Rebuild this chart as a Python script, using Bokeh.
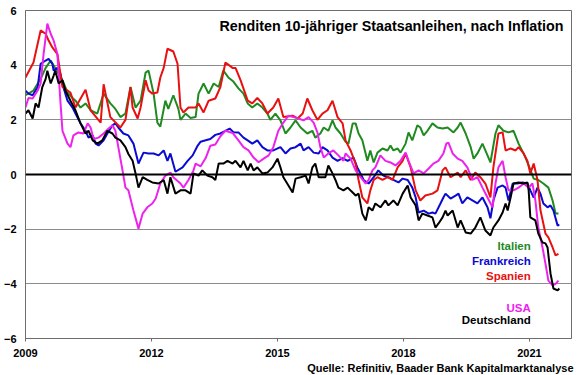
from bokeh.plotting import figure
from bokeh.models import FixedTicker, Span, Label, Range1d, Title
from bokeh.embed import file_html
from bokeh.resources import INLINE

# ---- data ----
title_text = "Renditen 10-jähriger Staatsanleihen, nach Inflation"
source_text = "Quelle: Refinitiv, Baader Bank Kapitalmarktanalyse"
x_ticks = [2009, 2012, 2015, 2018, 2021]
y_ticks = [-6, -4, -2, 0, 2, 4, 6]

it_years = [2009.00, 2009.19, 2009.36, 2009.48, 2009.60, 2009.88, 2010.00, 2010.12, 2010.19, 2010.31,
            2010.43, 2010.55, 2010.71, 2010.86, 2011.02, 2011.14, 2011.26, 2011.38, 2011.50, 2011.62,
            2011.74, 2011.86, 2011.93, 2012.05, 2012.14, 2012.21, 2012.33, 2012.40, 2012.52, 2012.64,
            2012.69, 2012.81, 2012.93, 2013.05, 2013.12, 2013.24, 2013.36, 2013.48, 2013.60, 2013.71,
            2013.83, 2013.95, 2014.07, 2014.19, 2014.29, 2014.40, 2014.52, 2014.64, 2014.76, 2014.83,
            2014.95, 2015.07, 2015.19, 2015.31, 2015.43, 2015.55, 2015.71, 2015.83, 2015.90, 2016.02,
            2016.10, 2016.21, 2016.31, 2016.38, 2016.50, 2016.62, 2016.69, 2016.79, 2016.86, 2016.93,
            2017.02, 2017.14, 2017.21, 2017.29, 2017.38, 2017.50, 2017.62, 2017.69, 2017.76, 2017.86,
            2017.93, 2018.05, 2018.12, 2018.21, 2018.33, 2018.40, 2018.48, 2018.57, 2018.69, 2018.81,
            2018.93, 2019.05, 2019.19, 2019.29, 2019.36, 2019.48, 2019.60, 2019.67, 2019.76, 2019.88,
            2020.00, 2020.07, 2020.19, 2020.26, 2020.38, 2020.50, 2020.62, 2020.74, 2020.86, 2020.98,
            2021.10, 2021.21, 2021.33, 2021.45, 2021.55, 2021.62, 2021.69]
it_vals = [2.90, 3.07, 3.50, 3.90, 4.17, 3.45, 3.00, 2.80, 2.70, 2.45,
           2.60, 2.35, 2.23, 2.96, 2.60, 2.40, 2.10, 2.23, 3.20, 2.45,
           2.70, 3.73, 3.80, 2.96, 1.90, 1.75, 2.70, 2.40, 2.90, 2.40,
           2.00, 2.23, 2.07, 2.10, 2.96, 3.33, 2.96, 3.33, 3.20, 3.80,
           3.55, 3.40, 3.15, 2.96, 2.60, 2.45, 2.60, 2.45, 2.23, 2.00,
           2.23, 1.98, 1.50, 1.72, 1.98, 1.72, 1.50, 1.60, 1.35, 1.50,
           1.72, 1.60, 1.98, 1.72, 1.50, 1.20, 1.13, 1.87, 1.87, 1.50,
           1.25, 0.50, 0.88, 0.44, 0.80, 0.95, 0.88, 1.06, 0.88, 0.95,
           0.80, 1.13, 1.54, 1.25, 1.80, 1.72, 1.43, 1.60, 1.87, 1.72,
           1.68, 1.72, 1.54, 1.72, 1.90, 1.50, 1.00, 0.58, 0.77, 1.13,
           0.70, 0.44, 1.50, 1.80, 1.60, 1.54, 1.60, 1.13, 0.77, 0.33,
           -0.15, -0.20, -0.33, -0.48, -0.95, -1.43, -1.43]

fr_years = [2009.00, 2009.07, 2009.17, 2009.29, 2009.36, 2009.48, 2009.55, 2009.64, 2009.67, 2009.76,
            2009.83, 2009.90, 2010.00, 2010.12, 2010.19, 2010.31, 2010.43, 2010.50, 2010.60, 2010.67,
            2010.74, 2010.86, 2010.95, 2011.07, 2011.14, 2011.21, 2011.33, 2011.45, 2011.57, 2011.69,
            2011.81, 2011.93, 2012.05, 2012.17, 2012.29, 2012.38, 2012.45, 2012.57, 2012.74, 2012.86,
            2012.98, 2013.10, 2013.17, 2013.29, 2013.40, 2013.52, 2013.64, 2013.76, 2013.86, 2013.95,
            2014.07, 2014.19, 2014.29, 2014.40, 2014.52, 2014.64, 2014.76, 2014.90, 2015.07, 2015.19,
            2015.31, 2015.43, 2015.55, 2015.62, 2015.74, 2015.86, 2015.98, 2016.07, 2016.19, 2016.31,
            2016.43, 2016.55, 2016.67, 2016.81, 2016.90, 2017.02, 2017.05, 2017.17, 2017.29, 2017.40,
            2017.52, 2017.64, 2017.76, 2017.88, 2017.98, 2018.10, 2018.21, 2018.29, 2018.36, 2018.48,
            2018.60, 2018.69, 2018.76, 2018.88, 2018.95, 2019.00, 2019.12, 2019.24, 2019.31, 2019.40,
            2019.52, 2019.64, 2019.76, 2019.88, 2020.00, 2020.07, 2020.14, 2020.24, 2020.36, 2020.43,
            2020.50, 2020.60, 2020.71, 2020.83, 2020.95, 2021.02, 2021.10, 2021.19, 2021.26, 2021.33,
            2021.43, 2021.50, 2021.57, 2021.67, 2021.71]
fr_vals = [3.07, 2.96, 2.90, 3.20, 4.05, 4.17, 4.23, 4.05, 3.80, 3.90,
           3.70, 3.20, 2.70, 2.45, 2.23, 1.87, 1.60, 1.35, 1.43, 1.13,
           1.06, 1.25, 1.50, 1.80, 1.87, 1.72, 1.50, 1.43, 1.13, 0.40,
           0.80, 0.77, 0.77, 0.70, 0.88, 0.50, 0.77, 0.10, 0.26, 0.50,
           0.70, 1.06, 1.20, 1.25, 1.30, 1.45, 1.50, 1.60, 1.68, 1.55,
           1.54, 1.35, 1.25, 1.13, 1.25, 1.00, 0.88, 0.88, 1.00, 0.77,
           0.95, 1.00, 1.13, 0.88, 1.00, 0.80, 0.77, 1.00, 0.88, 0.62,
           0.50, 0.60, 0.50, 0.62, 0.26, -0.10, -0.20, -0.33, -0.10, 0.15,
           -0.04, -0.10, -0.20, -0.29, -0.15, -0.20, -0.48, -0.84, -1.39, -1.32,
           -1.43, -1.39, -1.43, -1.06, -0.84, -0.70, -0.88, -0.77, -0.70, -1.06,
           -0.84, -0.95, -1.06, -0.84, -1.20, -1.60, -0.95, -0.48, -0.40, -0.48,
           -0.95, -0.33, -0.33, -0.29, -0.33, -0.58, -0.84, -0.48, -0.70, -1.06,
           -1.20, -1.13, -1.32, -1.87, -1.83]

es_years = [2009.00, 2009.19, 2009.36, 2009.48, 2009.55, 2009.64, 2009.76, 2009.88, 2010.07, 2010.19,
            2010.43, 2010.55, 2010.79, 2010.86, 2011.02, 2011.26, 2011.38, 2011.50, 2011.55, 2011.67,
            2011.74, 2011.86, 2011.93, 2012.02, 2012.14, 2012.21, 2012.29, 2012.38, 2012.52, 2012.62,
            2012.69, 2012.76, 2012.88, 2013.05, 2013.12, 2013.24, 2013.36, 2013.52, 2013.64, 2013.76,
            2013.93, 2014.00, 2014.12, 2014.29, 2014.40, 2014.52, 2014.64, 2014.76, 2014.90, 2015.02,
            2015.14, 2015.36, 2015.48, 2015.60, 2015.71, 2015.83, 2015.95, 2016.07, 2016.19, 2016.31,
            2016.43, 2016.55, 2016.62, 2016.74, 2016.86, 2016.93, 2017.02, 2017.14, 2017.21, 2017.29,
            2017.38, 2017.50, 2017.62, 2017.74, 2017.86, 2017.98, 2018.05, 2018.17, 2018.29, 2018.40,
            2018.52, 2018.69, 2018.81, 2018.93, 2019.00, 2019.12, 2019.29, 2019.36, 2019.48, 2019.60,
            2019.71, 2019.83, 2019.95, 2020.07, 2020.14, 2020.26, 2020.36, 2020.43, 2020.55, 2020.67,
            2020.74, 2020.86, 2020.95, 2021.02, 2021.10, 2021.19, 2021.26, 2021.38, 2021.45, 2021.55,
            2021.62, 2021.69]
es_vals = [3.55, 4.10, 5.27, 5.15, 4.90, 4.65, 4.40, 3.20, 3.00, 2.45,
           3.10, 2.35, 1.90, 3.30, 2.10, 1.72, 2.00, 3.20, 2.45, 2.05,
           2.45, 3.45, 3.07, 2.96, 3.00, 3.55, 3.90, 4.60, 4.50, 4.05,
           2.45, 2.27, 2.45, 2.45, 2.60, 2.27, 2.70, 2.78, 3.20, 4.10,
           3.90, 3.90, 3.45, 2.70, 2.60, 2.80, 2.60, 2.23, 2.45, 2.78,
           2.10, 2.15, 2.05, 2.23, 2.78, 2.35, 2.00, 2.23, 2.35, 2.70,
           2.10, 1.87, 1.25, 0.88, 0.40, -0.20, -0.84, -1.06, -0.58, -0.20,
           -0.10, -0.20, -0.10, -0.20, 0.26, 0.50, 0.77, 0.26, -0.58, -0.95,
           -0.77, -0.70, -0.58, 0.15, 0.26, -0.10, 0.07, -0.10, 0.15, -0.20,
           0.07, -0.10, -0.33, -0.84, 0.26, 1.50, 1.54, 0.88, 0.95, 0.88,
           1.00, 0.77, 0.50, 0.04, 0.40, -0.20, -1.30, -2.16, -2.30, -2.67,
           -2.96, -2.90]

us_years = [2009.00, 2009.07, 2009.17, 2009.29, 2009.36, 2009.43, 2009.52, 2009.60, 2009.67, 2009.76,
            2009.83, 2009.88, 2010.00, 2010.07, 2010.14, 2010.26, 2010.38, 2010.48, 2010.55, 2010.62,
            2010.74, 2010.86, 2010.98, 2011.07, 2011.14, 2011.21, 2011.31, 2011.38, 2011.45, 2011.57,
            2011.69, 2011.79, 2011.90, 2012.02, 2012.10, 2012.21, 2012.33, 2012.45, 2012.52, 2012.69,
            2012.76, 2012.88, 2013.00, 2013.05, 2013.17, 2013.29, 2013.40, 2013.52, 2013.64, 2013.76,
            2013.93, 2014.07, 2014.19, 2014.31, 2014.43, 2014.55, 2014.67, 2014.79, 2014.90, 2015.02,
            2015.14, 2015.26, 2015.38, 2015.50, 2015.62, 2015.74, 2015.86, 2015.95, 2016.02, 2016.10,
            2016.21, 2016.33, 2016.45, 2016.57, 2016.62, 2016.74, 2016.86, 2016.98, 2017.10, 2017.17,
            2017.26, 2017.33, 2017.45, 2017.57, 2017.69, 2017.81, 2017.93, 2018.05, 2018.12, 2018.24,
            2018.36, 2018.48, 2018.60, 2018.71, 2018.83, 2018.95, 2019.02, 2019.07, 2019.17, 2019.29,
            2019.40, 2019.52, 2019.64, 2019.76, 2019.88, 2020.00, 2020.12, 2020.19, 2020.26, 2020.36,
            2020.43, 2020.50, 2020.62, 2020.74, 2020.86, 2020.98, 2021.07, 2021.14, 2021.21, 2021.31,
            2021.38, 2021.45, 2021.55, 2021.62, 2021.69]
us_vals = [2.45, 2.80, 2.78, 3.07, 3.33, 4.40, 5.52, 5.15, 4.90, 4.40,
           2.70, 1.60, 1.13, 1.00, 1.43, 1.54, 1.50, 1.87, 1.72, 1.30,
           1.35, 1.50, 1.68, 1.80, 1.60, 1.00, 0.15, -0.48, -0.58, -1.32,
           -1.98, -1.43, -1.20, -1.06, -0.88, -0.33, -0.04, 0.07, -0.10, -0.33,
           -0.48, -0.20, 0.15, 0.40, 0.30, 0.60, 1.05, 1.10, 1.40, 1.60,
           1.52, 1.25, 1.00, 0.88, 0.62, 0.45, 0.58, 0.70, 1.00, 1.60,
           1.90, 2.15, 2.10, 2.05, 1.98, 2.10, 1.90, 1.54, 1.00, 0.62,
           0.77, 0.88, 0.70, 0.50, 0.77, 0.58, 0.15, -0.10, -0.33, -0.20,
           0.15, 0.26, 0.70, 0.50, 0.44, 0.33, 0.50, 0.80, 0.50, 0.04,
           0.15, 0.04, 0.22, 0.40, 0.50, 0.77, 1.13, 1.17, 0.77, 0.58,
           0.50, 0.26, -0.20, -0.10, -0.48, -0.84, -1.20, -0.33, 0.26, 0.50,
           -0.10, -0.58, -0.58, -0.48, -0.33, -0.48, -0.33, -0.95, -1.94, -2.67,
           -3.26, -3.88, -4.06, -4.00, -3.88]

de_years = [2009.00, 2009.07, 2009.17, 2009.24, 2009.31, 2009.40, 2009.48, 2009.52, 2009.60, 2009.67,
            2009.71, 2009.79, 2009.88, 2009.95, 2010.07, 2010.19, 2010.31, 2010.43, 2010.50, 2010.60,
            2010.71, 2010.83, 2010.95, 2011.07, 2011.14, 2011.26, 2011.38, 2011.45, 2011.55, 2011.62,
            2011.69, 2011.79, 2011.90, 2012.02, 2012.17, 2012.29, 2012.38, 2012.45, 2012.57, 2012.69,
            2012.81, 2012.93, 2013.00, 2013.12, 2013.21, 2013.33, 2013.45, 2013.52, 2013.60, 2013.71,
            2013.81, 2013.93, 2014.00, 2014.12, 2014.19, 2014.29, 2014.36, 2014.43, 2014.52, 2014.64,
            2014.76, 2014.88, 2015.00, 2015.07, 2015.14, 2015.26, 2015.36, 2015.43, 2015.55, 2015.67,
            2015.74, 2015.83, 2015.90, 2015.98, 2016.07, 2016.14, 2016.21, 2016.31, 2016.38, 2016.45,
            2016.57, 2016.67, 2016.79, 2016.86, 2016.93, 2017.02, 2017.10, 2017.17, 2017.26, 2017.33,
            2017.45, 2017.57, 2017.64, 2017.76, 2017.86, 2017.98, 2018.10, 2018.17, 2018.29, 2018.36,
            2018.45, 2018.57, 2018.69, 2018.76, 2018.83, 2018.93, 2019.00, 2019.05, 2019.17, 2019.29,
            2019.36, 2019.48, 2019.60, 2019.71, 2019.83, 2019.95, 2020.07, 2020.14, 2020.26, 2020.36,
            2020.43, 2020.48, 2020.55, 2020.62, 2020.74, 2020.86, 2020.95, 2020.98, 2021.02, 2021.14,
            2021.21, 2021.31, 2021.38, 2021.43, 2021.50, 2021.57, 2021.67, 2021.71]
de_vals = [2.23, 2.35, 2.05, 2.60, 2.45, 3.20, 3.50, 3.80, 3.33, 3.62,
           3.80, 3.33, 3.45, 3.07, 2.70, 2.35, 1.87, 1.50, 1.60, 1.25,
           1.13, 1.25, 1.60, 1.50, 1.35, 1.25, 1.00, 0.75, 0.50, 0.04,
           -0.48, -0.10, -0.20, -0.29, -0.33, -0.20, -0.70, -0.10, -0.70, -0.58,
           -0.58, -0.70, 0.04, -0.04, 0.15, -0.04, -0.10, -0.20, 0.40, 0.40,
           0.50, 0.40, 0.50, 0.26, 0.50, 0.15, 0.40, 0.15, 0.26, 0.04,
           0.07, 0.26, 0.58, 0.26, -0.10, -0.40, -0.66, -0.15, -0.10, -0.04,
           -0.33, 0.26, 0.40, -0.10, -0.10, -0.10, 0.33, 0.04, -0.20, -0.48,
           -0.58, -0.48, -0.66, -0.77, -0.70, -1.43, -1.68, -1.20, -1.32, -1.06,
           -1.20, -0.95, -1.13, -0.95, -1.13, -0.70, -0.40, -0.84, -1.13, -1.68,
           -1.43, -1.50, -1.57, -1.94, -1.80, -1.57, -1.32, -1.50, -1.32, -1.94,
           -1.68, -2.12, -2.16, -1.94, -1.57, -2.05, -2.23, -1.94, -1.68, -1.39,
           -1.06, -1.32, -0.84, -0.33, -0.29, -0.33, -0.29, -0.58, -1.57, -1.68,
           -2.16, -2.49, -2.52, -2.67, -3.62, -4.17, -4.24, -4.17]

series_names = ["Italien", "Frankreich", "Spanien", "USA", "Deutschland"]
series_colors = ["#1f8a1f", "#0a0ad2", "#e81010", "#ee22ee", "#000000"]

FONT = "Liberation Sans"

p = figure(width=580, height=375, output_backend="svg", toolbar_location=None,
           x_range=Range1d(2009, 2022), y_range=Range1d(-6, 6),
           min_border_left=25, min_border_right=9, min_border_top=10, min_border_bottom=37)
p.background_fill_color = "white"
p.border_fill_color = "white"
p.outline_line_color = "#6e6e6e"
p.outline_line_width = 1

p.xgrid.grid_line_color = None
p.ygrid.ticker = FixedTicker(ticks=y_ticks)
p.ygrid.grid_line_color = "#8c8c8c"
p.ygrid.grid_line_width = 1

p.xaxis.ticker = FixedTicker(ticks=x_ticks)
p.yaxis.ticker = FixedTicker(ticks=y_ticks)
for ax in (p.xaxis[0], p.yaxis[0]):
    ax.axis_line_color = "#6e6e6e"
    ax.major_tick_line_color = "#6e6e6e"
    ax.minor_tick_line_color = None
    ax.major_tick_in = 0
    ax.major_label_text_font = FONT
    ax.major_label_text_font_style = "bold"
    ax.major_label_text_font_size = "11px"
    ax.major_label_text_color = "black"
p.xaxis.major_tick_out = 3
p.xaxis.major_label_standoff = 7
p.yaxis.major_tick_out = 0
p.yaxis.major_label_standoff = 9

xs = [it_years, fr_years, es_years, us_years, de_years]
ys = [it_vals, fr_vals, es_vals, us_vals, de_vals]
for xv, yv, c in zip(xs, ys, series_colors):
    p.line(xv, yv, line_color=c, line_width=2)

p.add_layout(Span(location=0, dimension="width", line_color="black", line_width=2))

p.add_layout(Label(x=2021.81, y=5.45, text=title_text, text_align="right", text_baseline="middle",
                   text_font=FONT, text_font_style="bold", text_font_size="14.3px", text_color="black"))

legend_y = [-2.6, -3.15, -3.7, -4.87, -5.34]
for name, c, ly in zip(series_names, series_colors, legend_y):
    p.add_layout(Label(x=2021.03, y=ly, text=name, text_align="right", text_baseline="middle",
                       text_font=FONT, text_font_style="bold", text_font_size="11.5px", text_color=c))

src = Title(text=source_text, align="right", offset=-2, standoff=0,
            text_font=FONT, text_font_style="bold", text_font_size="11px", text_color="black")
p.add_layout(src, "below")

open("out.html", "w").write(file_html(p, INLINE))
